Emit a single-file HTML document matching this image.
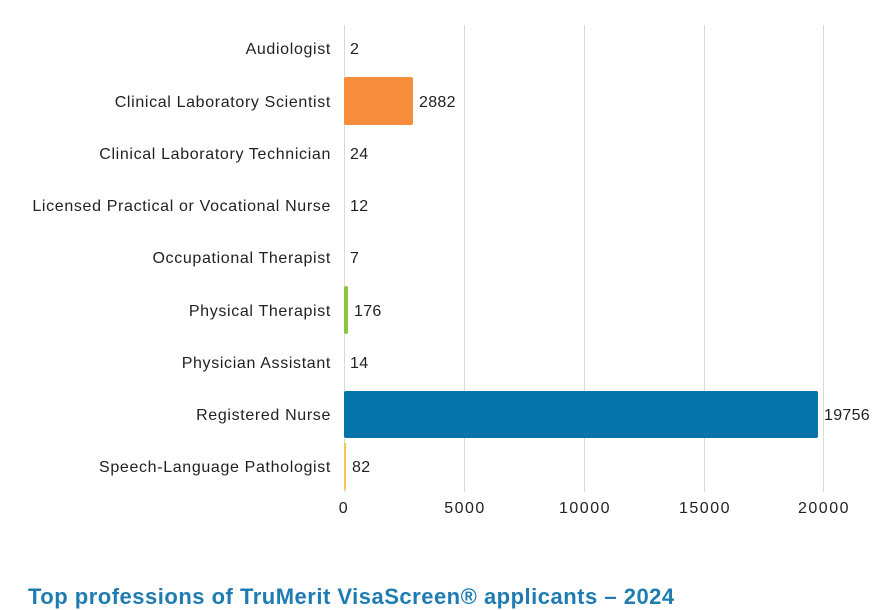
<!DOCTYPE html>
<html><head><meta charset="utf-8"><style>
html,body{margin:0;padding:0;background:#fff;width:888px;height:610px;overflow:hidden}
svg{display:block;font-family:"Liberation Sans",sans-serif}
</style></head><body>
<svg width="888" height="610" viewBox="0 0 888 610">
<g stroke="#d9d9d9" stroke-width="1">
<line x1="344.5" y1="25" x2="344.5" y2="492"/>
<line x1="464.5" y1="25" x2="464.5" y2="492"/>
<line x1="584.5" y1="25" x2="584.5" y2="492"/>
<line x1="704.5" y1="25" x2="704.5" y2="492"/>
<line x1="823.5" y1="25" x2="823.5" y2="492"/>
</g>
<rect x="344" y="77" width="69" height="48" rx="2" fill="#f58d3c"/>
<rect x="344" y="286" width="4" height="48" rx="2" fill="#8cc63f"/>
<rect x="344" y="391" width="474" height="47" rx="2" fill="#0674a8"/>
<rect x="344" y="443" width="2" height="47" fill="#f2c94c"/>
<g font-size="16" fill="#222" text-anchor="end" letter-spacing="0.65">
<text x="331" y="54">Audiologist</text>
<text x="331" y="107">Clinical Laboratory Scientist</text>
<text x="331" y="159">Clinical Laboratory Technician</text>
<text x="331" y="211">Licensed Practical or Vocational Nurse</text>
<text x="331" y="263">Occupational Therapist</text>
<text x="331" y="316">Physical Therapist</text>
<text x="331" y="368">Physician Assistant</text>
<text x="331" y="420">Registered Nurse</text>
<text x="331" y="472">Speech-Language Pathologist</text>
</g>
<g font-size="16" fill="#222" letter-spacing="0.3">
<text x="350" y="54">2</text>
<text x="419" y="107">2882</text>
<text x="350" y="159">24</text>
<text x="350" y="211">12</text>
<text x="350" y="263">7</text>
<text x="354" y="316">176</text>
<text x="350" y="368">14</text>
<text x="824" y="420">19756</text>
<text x="352" y="472">82</text>
</g>
<g font-size="16" fill="#222" text-anchor="middle" letter-spacing="1.5">
<text x="344" y="513">0</text>
<text x="465" y="513">5000</text>
<text x="585" y="513">10000</text>
<text x="705" y="513">15000</text>
<text x="824" y="513">20000</text>
</g>
<text x="28" y="604" font-size="22" font-weight="bold" fill="#1f7cb2" letter-spacing="0.5">Top professions of TruMerit VisaScreen® applicants – 2024</text>
</svg>
</body></html>
